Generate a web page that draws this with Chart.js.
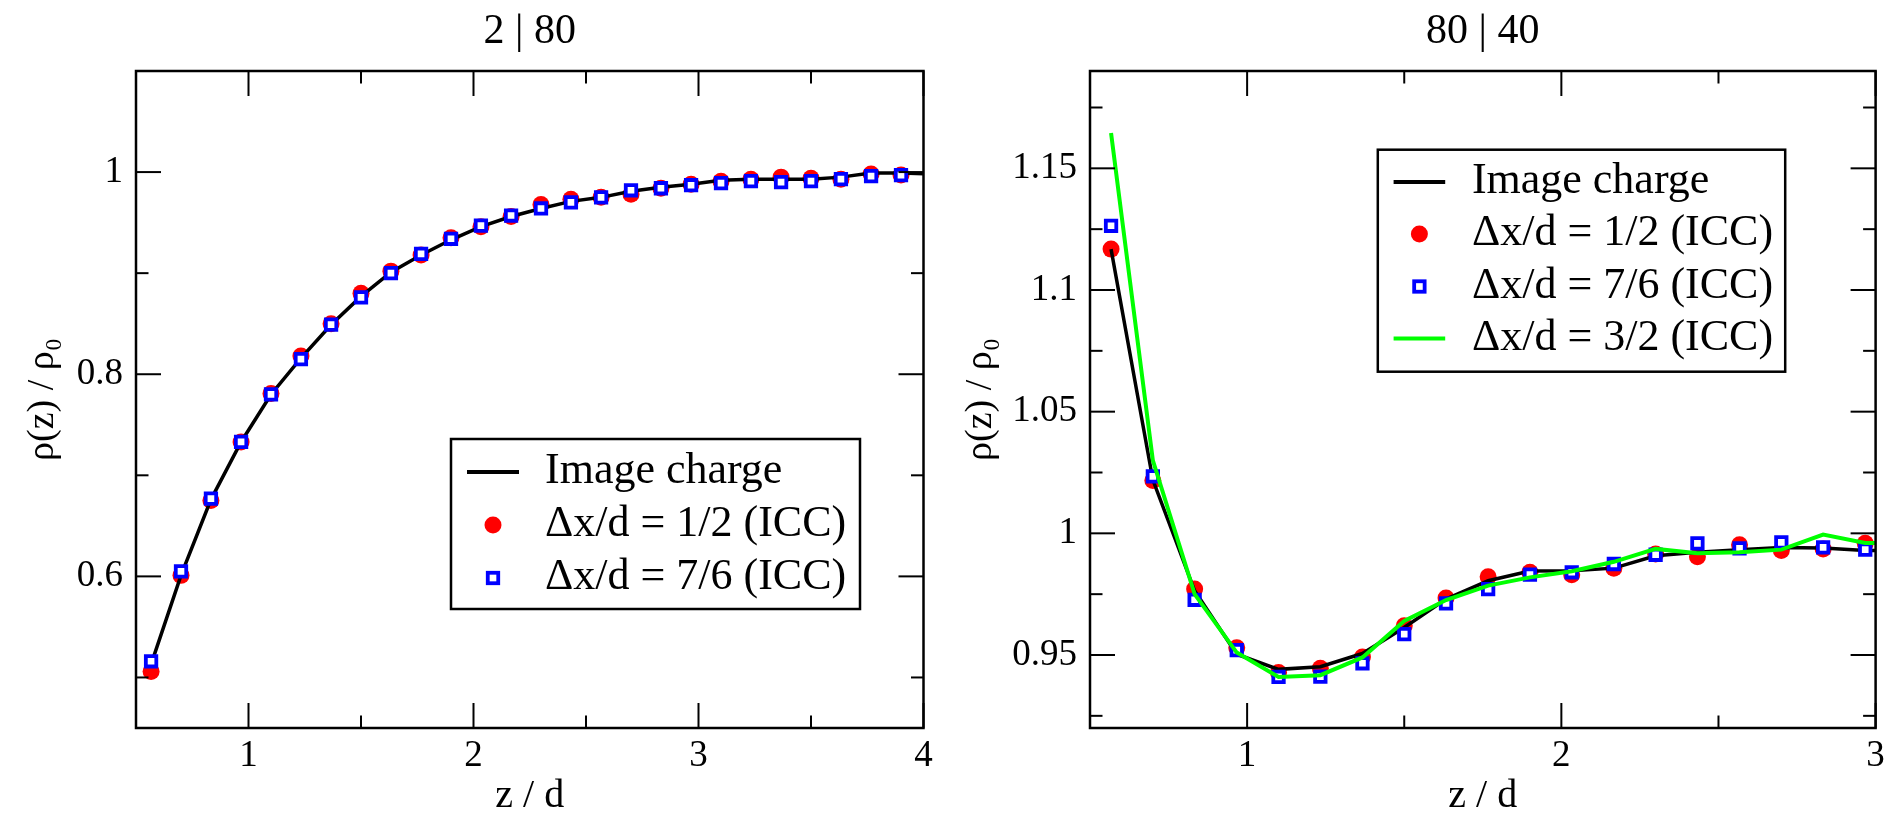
<!DOCTYPE html>
<html><head><meta charset="utf-8">
<script src="https://cdn.jsdelivr.net/npm/chart.js@4/dist/chart.umd.min.js"></script>
<style>
html,body{margin:0;padding:0;background:#fff;overflow:hidden;}
#wrap{position:relative;width:1892px;height:815px;background:#fff;}
canvas{position:absolute;top:0;}
#c1{left:0;} #c2{left:946px;}
</style></head><body>
<div id="wrap"><canvas id="c1" width="946" height="815"></canvas><canvas id="c2" width="946" height="815"></canvas></div>
<script>
// ---------- DATA ----------
// Left panel "2 | 80"
const zLeft      = [0.567,0.700,0.833,0.967,1.100,1.233,1.367,1.500,1.633,1.767,1.900,2.033,2.167,2.300,2.433,2.567,2.700,2.833,2.967,3.100,3.233,3.367,3.500,3.633,3.767,3.900];
const zLeftLine  = [0.567,0.700,0.833,0.967,1.100,1.233,1.367,1.500,1.633,1.767,1.900,2.033,2.167,2.300,2.433,2.567,2.700,2.833,2.967,3.100,3.233,3.367,3.500,3.633,3.767,3.900,4.033];
const imageLeft  = [0.513,0.601,0.676,0.733,0.780,0.816,0.849,0.877,0.901,0.918,0.933,0.946,0.956,0.964,0.971,0.975,0.981,0.985,0.988,0.992,0.993,0.993,0.993,0.995,0.999,0.999,0.998];
const half_Left  = [0.506,0.601,0.675,0.733,0.781,0.818,0.850,0.880,0.902,0.918,0.935,0.946,0.956,0.968,0.973,0.975,0.978,0.984,0.988,0.991,0.993,0.995,0.994,0.993,0.998,0.997];
const sev6_Left  = [0.516,0.605,0.677,0.733,0.780,0.815,0.849,0.876,0.900,0.919,0.934,0.947,0.957,0.964,0.970,0.975,0.982,0.984,0.987,0.989,0.991,0.990,0.991,0.993,0.996,0.997];
const xTicksLeft = [1,2,3,4];
const xLabelsLeft = ['1','2','3','4'];
const yTicksLeft = [0.6,0.8,1.0];
const yLabelsLeft = ['0.6','0.8','1'];

// Right panel "80 | 40"
const zRight      = [0.567,0.700,0.833,0.967,1.100,1.233,1.367,1.500,1.633,1.767,1.900,2.033,2.167,2.300,2.433,2.567,2.700,2.833,2.967];
const zRightLine  = [0.567,0.700,0.833,0.967,1.100,1.233,1.367,1.500,1.633,1.767,1.900,2.033,2.167,2.300,2.433,2.567,2.700,2.833,2.967,3.100];
const imageRight  = [1.1168,1.0220,0.9764,0.9503,0.9441,0.9452,0.9506,0.9613,0.9730,0.9805,0.9845,0.9846,0.9857,0.9908,0.9922,0.9933,0.9942,0.9940,0.9929,0.9929];
const half_Right  = [1.1168,1.0217,0.9771,0.9530,0.9428,0.9446,0.9492,0.9620,0.9734,0.9822,0.9840,0.9830,0.9857,0.9915,0.9904,0.9953,0.9929,0.9936,0.9959];
const sev6_Right  = [1.1264,1.0234,0.9727,0.9520,0.9410,0.9411,0.9466,0.9586,0.9712,0.9771,0.9830,0.9840,0.9874,0.9912,0.9959,0.9938,0.9963,0.9942,0.9933];
const thr2_Right  = [1.1645,1.0300,0.9750,0.9510,0.9410,0.9417,0.9490,0.9640,0.9726,0.9785,0.9819,0.9844,0.9883,0.9936,0.9918,0.9922,0.9933,0.9995,0.9960,0.9960];
const xTicksRight = [1,2,3];
const xLabelsRight = ['1','2','3'];
const yTicksRight = [0.95,1.0,1.05,1.1,1.15];
const yLabelsRight = ['0.95','1','1.05','1.1','1.15'];

// ---------- STYLE ----------
const SERIF = "'Liberation Serif', 'Times New Roman', serif";
const pts = (xs, ys) => xs.map((x, i) => ({x: x, y: ys[i]}));

const frameTicks = {
  id: 'frameTicks',
  afterDatasetsDraw(chart, args, o) {
    const {ctx, chartArea: a} = chart;
    const xs = chart.scales.x, ys = chart.scales.y;
    ctx.save();
    ctx.strokeStyle = '#000';
    ctx.lineWidth = 2;
    const seg = (x1, y1, x2, y2) => { ctx.beginPath(); ctx.moveTo(x1, y1); ctx.lineTo(x2, y2); ctx.stroke(); };
    const doX = (vals, len) => vals.forEach(v => { const p = xs.getPixelForValue(v); seg(p, a.bottom, p, a.bottom - len); seg(p, a.top, p, a.top + len); });
    const doY = (vals, len) => vals.forEach(v => { const p = ys.getPixelForValue(v); seg(a.left, p, a.left + len, p); seg(a.right, p, a.right - len, p); });
    doX(o.xMajor, 25); doX(o.xMinor, 12.5);
    doY(o.yMajor, 25); doY(o.yMinor, 12.5);
    ctx.lineWidth = 2.5;
    ctx.strokeRect(a.left, a.top, a.width, a.height);
    ctx.restore();
  }
};

const boxLegend = {
  id: 'boxLegend',
  afterDraw(chart, args, o) {
    const ctx = chart.ctx;
    ctx.save();
    const [bx1, by1, bx2, by2] = o.box;
    ctx.fillStyle = '#fff';
    ctx.fillRect(bx1, by1, bx2 - bx1, by2 - by1);
    ctx.strokeStyle = '#000';
    ctx.lineWidth = 2.5;
    ctx.strokeRect(bx1, by1, bx2 - bx1, by2 - by1);
    o.order.forEach((di, k) => {
      const ds = chart.data.datasets[di];
      const y = o.rows[k];
      const cx = (o.symX1 + o.symX2) / 2;
      if (ds.showLine !== false) {
        ctx.strokeStyle = ds.borderColor; ctx.lineWidth = 4;
        ctx.beginPath(); ctx.moveTo(o.symX1, y); ctx.lineTo(o.symX2, y); ctx.stroke();
      } else if (ds.pointStyle === 'circle') {
        ctx.fillStyle = ds.pointBackgroundColor;
        ctx.beginPath(); ctx.arc(cx, y, ds.pointRadius, 0, Math.PI * 2); ctx.fill();
      } else {
        const s = ds.pointRadius * Math.SQRT2;
        ctx.fillStyle = '#fff'; ctx.strokeStyle = ds.pointBorderColor; ctx.lineWidth = ds.pointBorderWidth;
        ctx.fillRect(cx - s / 2, y - s / 2, s, s);
        ctx.strokeRect(cx - s / 2, y - s / 2, s, s);
      }
      ctx.fillStyle = '#000';
      ctx.font = o.fontSize + 'px ' + SERIF;
      ctx.textBaseline = 'alphabetic';
      ctx.textAlign = 'left';
      ctx.fillText(ds.label, o.textX, y + o.baseOff);
    });
    ctx.restore();
  }
};

function lineDs(label, data, color, width, order) {
  return {label, data, borderColor: color, backgroundColor: color, borderWidth: width,
          pointRadius: 0, showLine: true, tension: 0, order, fill: false};
}
function circleDs(label, data, order) {
  return {label, data, showLine: false, pointStyle: 'circle', pointRadius: 8.5,
          pointBackgroundColor: '#ff0000', pointBorderColor: '#ff0000', pointBorderWidth: 0, order};
}
function squareDs(label, data, order) {
  return {label, data, showLine: false, pointStyle: 'rect', pointRadius: 7.4,
          pointBackgroundColor: '#ffffff', pointBorderColor: '#0000ff', pointBorderWidth: 3.8, order};
}

function makeChart(id, cfg) {
  return new Chart(document.getElementById(id), {
    type: 'scatter',
    data: {datasets: cfg.datasets},
    plugins: [frameTicks, boxLegend],
    options: {
      responsive: false, animation: false, events: [],
      layout: {padding: {left: 0, right: cfg.padRight, top: 0, bottom: 0}},
      plugins: {
        legend: {display: false}, tooltip: {enabled: false},
        title: {display: true, text: cfg.title, color: '#000', fullSize: false,
                font: {family: SERIF, size: 42, weight: 'normal', lineHeight: 1.2},
                padding: {top: 7, bottom: 13.6}},
        frameTicks: cfg.ticks,
        boxLegend: cfg.legend
      },
      scales: {
        x: {type: 'linear', position: 'bottom', min: cfg.xMin, max: cfg.xMax,
            afterBuildTicks: s => { s.ticks = cfg.xTicks.map(v => ({value: v})); },
            afterFit: s => { s.height = 87; },
            grid: {display: false, drawTicks: false}, border: {display: false},
            ticks: {color: '#000', font: {family: SERIF, size: 37}, padding: 6, maxRotation: 0, autoSkip: false,
                    callback: (v, i) => cfg.xLabels[i]},
            title: {display: true, text: 'z / d', color: '#000',
                    font: {family: SERIF, size: 40, lineHeight: 1}, padding: {top: 0, bottom: -1}}},
        y: {type: 'linear', position: 'left', min: cfg.yMin, max: cfg.yMax,
            afterBuildTicks: s => { s.ticks = cfg.yTicks.map(v => ({value: v})); },
            afterFit: s => { s.width = cfg.yWidth; },
            grid: {display: false, drawTicks: false}, border: {display: false},
            ticks: {color: '#000', font: {family: SERIF, size: 37}, padding: 13, autoSkip: false,
                    callback: (v, i) => cfg.yLabels[i]},
            title: {display: true, text: 'ρ(z) / ρ₀', color: '#000',
                    font: {family: SERIF, size: 38, lineHeight: 1}, padding: {top: cfg.yTitlePad, bottom: 0}}}
      }
    }
  });
}

makeChart('c1', {
  title: '2 | 80', padRight: 22.5, yWidth: 136, yTitlePad: 24,
  xMin: 0.5, xMax: 4, yMin: 0.45, yMax: 1.1,
  xTicks: xTicksLeft, xLabels: xLabelsLeft, yTicks: yTicksLeft, yLabels: yLabelsLeft,
  ticks: {xMajor: [1,2,3,4], xMinor: [1.5,2.5,3.5], yMajor: [0.6,0.8,1.0], yMinor: [0.5,0.7,0.9]},
  legend: {box: [451, 439, 860, 609], rows: [472, 525, 578], symX1: 467, symX2: 519, textX: 545,
           baseOff: 11, fontSize: 44, order: [0, 1, 2]},
  datasets: [
    lineDs('Image charge', pts(zLeftLine, imageLeft), '#000000', 3.5, 2),
    circleDs('Δx/d = 1/2 (ICC)', pts(zLeft, half_Left), 3),
    squareDs('Δx/d = 7/6 (ICC)', pts(zLeft, sev6_Left), 1)
  ]
});

makeChart('c2', {
  title: '80 | 40', padRight: 16.4, yWidth: 144, yTitlePad: 16,
  xMin: 0.5, xMax: 3, yMin: 0.92, yMax: 1.19,
  xTicks: xTicksRight, xLabels: xLabelsRight, yTicks: yTicksRight, yLabels: yLabelsRight,
  ticks: {xMajor: [1,2,3], xMinor: [1.5,2.5], yMajor: [0.95,1.0,1.05,1.1,1.15], yMinor: [0.925,0.975,1.025,1.075,1.125,1.175]},
  legend: {box: [431.8, 149.7, 839.2, 371.7], rows: [182, 234, 286.5, 338.5], symX1: 447.6, symX2: 499.2, textX: 525.9,
           baseOff: 11, fontSize: 44, order: [0, 1, 2, 3]},
  datasets: [
    lineDs('Image charge', pts(zRightLine, imageRight), '#000000', 3.5, 2),
    circleDs('Δx/d = 1/2 (ICC)', pts(zRight, half_Right), 3),
    squareDs('Δx/d = 7/6 (ICC)', pts(zRight, sev6_Right), 1),
    lineDs('Δx/d = 3/2 (ICC)', pts(zRightLine, thr2_Right), '#00ff00', 4, 0)
  ]
});
</script>
</body></html>
